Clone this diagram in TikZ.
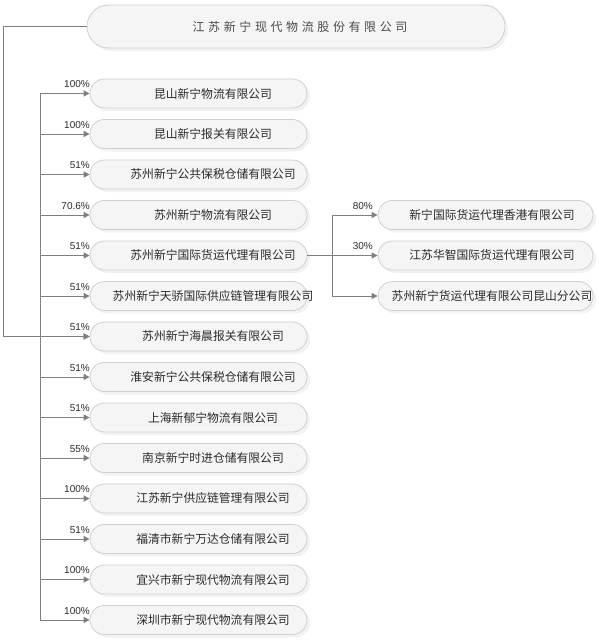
\documentclass[tikz,border=0pt]{standalone}
\usepackage{fontspec}
\setmainfont{Liberation Sans}
\newfontfamily\cjk{Noto Sans CJK SC}
\newfontfamily\cjksp[LetterSpace=30]{Noto Sans CJK SC}
\usetikzlibrary{arrows.meta,shadows}
\definecolor{ln}{HTML}{7F7F7F}
\definecolor{bd}{HTML}{CFCFCF}
\definecolor{bg}{HTML}{F5F5F5}
\definecolor{tx}{HTML}{2A2A2A}
\newcommand{\offtxt}[2]{\makebox[0pt]{\hspace{#1}#2}}
\begin{document}
\begin{tikzpicture}[x=1pt,y=-1pt,
  pill/.style={draw=bd, fill=bg, line width=0.8pt, inner sep=0pt,
    drop shadow={shadow xshift=3pt, shadow yshift=-3pt, fill=black, opacity=0.05}},
  kid/.style={pill, rounded corners=14.5pt, minimum width=217pt, minimum height=29pt,
    font=\cjk\fontsize{11.8}{14}\selectfont, text=tx},
  rkid/.style={kid, minimum width=215pt},
  topbox/.style={pill, rounded corners=21.5pt, minimum width=418pt, minimum height=43pt,
    font=\cjksp\fontsize{12}{14}\selectfont, text=tx!85},
  pct/.style={font=\fontsize{10}{12}\selectfont, text=tx, inner sep=0pt, anchor=base east},
  line/.style={draw=ln, line width=1pt},
  conn/.style={line, -{Triangle[length=6pt,width=6pt]}, ln}]
\useasboundingbox (0,0) rectangle (598,640);

\node[topbox] (top) at (296,26.5) {\offtxt{8pt}{江苏新宁现代物流股份有限公司}};

\foreach \i/\t/\p in {1/昆山新宁物流有限公司/100\%,
  2/昆山新宁报关有限公司/100\%,
  3/苏州新宁公共保税仓储有限公司/51\%,
  4/苏州新宁物流有限公司/70.6\%,
  5/苏州新宁国际货运代理有限公司/51\%,
  6/苏州新宁天骄国际供应链管理有限公司/51\%,
  7/苏州新宁海晨报关有限公司/51\%,
  8/淮安新宁公共保税仓储有限公司/51\%,
  9/上海新郁宁物流有限公司/51\%,
  10/南京新宁时进仓储有限公司/55\%,
  11/江苏新宁供应链管理有限公司/100\%,
  12/福清市新宁万达仓储有限公司/51\%,
  13/宜兴市新宁现代物流有限公司/100\%,
  14/深圳市新宁现代物流有限公司/100\%}{
  \pgfmathsetmacro{\yy}{93.5+40.5*(\i-1)}
  \node[kid] (c\i) at (198.5,\yy) {\offtxt{29pt}{\t}};
  \node[pct] (p\i) at (90,\yy-6) {\p};
}

\foreach \i/\t in {1/新宁国际货运代理香港有限公司, 2/江苏华智国际货运代理有限公司, 3/苏州新宁货运代理有限公司昆山分公司}{
  \pgfmathsetmacro{\yy}{215+40.5*(\i-1)}
  \node[rkid] (r\i) at (485.5,\yy) {\offtxt{13pt}{\t}};
}
\node[pct] (q1) at (373,209) {80\%};
\node[pct] (q2) at (373,249.5) {30\%};

\coordinate (T) at (40,0);
\coordinate (B) at (332,0);

% trunk
\draw[line] (T |- c1.west) -- (T |- c14.west);
\foreach \i in {1,...,14}{
  \draw[conn] (T |- c\i.west) -- (c\i.west);
}
% from top node
\draw[conn] (top.west) -- ++(-83,0) |- (c7.west);

% right branch
\draw[line] (c5.east) -- (B |- c5.east);
\draw[line] (B |- r1.west) -- (B |- r3.west);
\foreach \i in {1,2,3}{
  \draw[conn] (B |- r\i.west) -- (r\i.west);
}
\end{tikzpicture}
\end{document}
